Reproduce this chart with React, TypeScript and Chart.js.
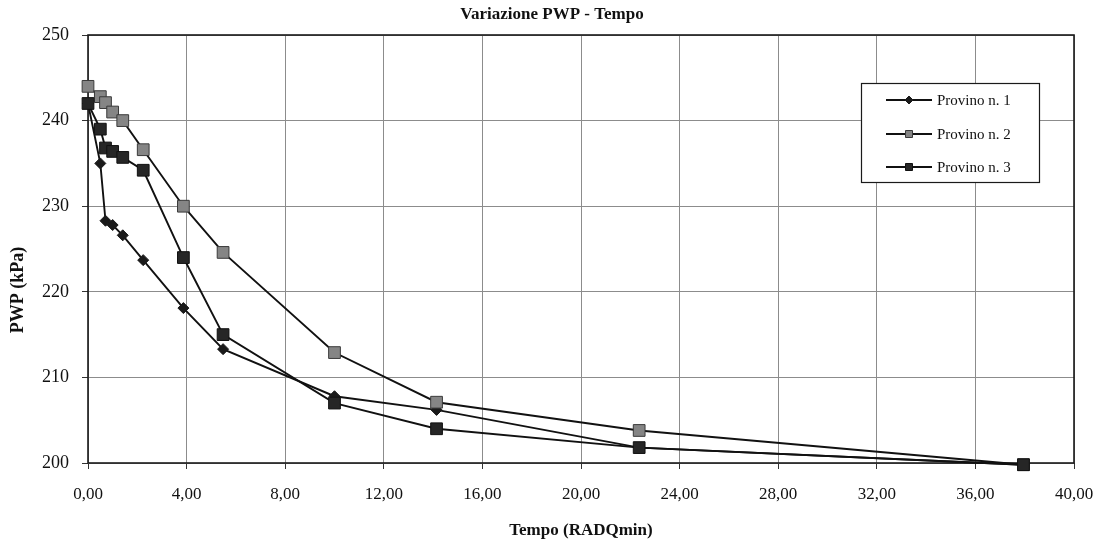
import React, { useEffect, useRef } from 'react';
import { Chart, registerables } from 'chart.js';

Chart.register(...registerables);

// ---- data ----
const timeRoot = [0, 0.5, 0.71, 1.0, 1.41, 2.24, 3.87, 5.48, 10.0, 14.14, 22.36, 37.95];
const provino1 = [242.0, 235.0, 228.3, 227.8, 226.6, 223.7, 218.1, 213.3, 207.8, 206.2, 201.8, 199.8];
const provino2 = [244.0, 242.8, 242.1, 241.0, 240.0, 236.6, 230.0, 224.6, 212.9, 207.1, 203.8, 199.8];
const provino3 = [242.0, 239.0, 236.8, 236.4, 235.7, 234.2, 224.0, 215.0, 207.0, 204.0, 201.8, 199.8];
const seriesLabels = ['Provino n. 1', 'Provino n. 2', 'Provino n. 3'];

const xMin = 0;
const xMax = 40;
const xStep = 4;
const yMin = 200;
const yMax = 250;
const yStep = 10;

const chartTitle = 'Variazione PWP - Tempo';
const xTitle = 'Tempo (RADQmin)';
const yTitle = 'PWP (kPa)';

const FONT = "'Liberation Serif', 'Times New Roman', serif";

const markerStyles = [
  { style: 'rectRot', radius: 5.5, fill: '#1a1a1a', stroke: '#1a1a1a' },
  { style: 'rect', radius: 8.3, fill: '#858585', stroke: '#3a3a3a' },
  { style: 'rect', radius: 8.3, fill: '#262626', stroke: '#111111' },
];

function drawMarker(ctx: CanvasRenderingContext2D, kind: number, x: number, y: number) {
  const m = markerStyles[kind];
  ctx.save();
  ctx.fillStyle = m.fill;
  ctx.strokeStyle = m.stroke;
  ctx.lineWidth = 1;
  ctx.beginPath();
  if (m.style === 'rectRot') {
    const r = 4;
    ctx.moveTo(x - r, y);
    ctx.lineTo(x, y - r);
    ctx.lineTo(x + r, y);
    ctx.lineTo(x, y + r);
    ctx.closePath();
  } else {
    const h = 3.5;
    ctx.rect(x - h, y - h, 2 * h, 2 * h);
  }
  ctx.fill();
  ctx.stroke();
  ctx.restore();
}

const decorPlugin = {
  id: 'decor',
  beforeDraw(chart: any) {
    const { ctx } = chart;
    ctx.save();
    ctx.fillStyle = '#ffffff';
    ctx.fillRect(0, 0, chart.width, chart.height);
    ctx.restore();
  },
  beforeDatasetsDraw(chart: any) {
    const { ctx, chartArea: a } = chart;
    ctx.save();
    ctx.strokeStyle = '#1a1a1a';
    ctx.lineWidth = 1.6;
    ctx.strokeRect(a.left, a.top, a.right - a.left, a.bottom - a.top);
    ctx.restore();
  },
  afterDraw(chart: any) {
    const { ctx } = chart;
    ctx.save();
    // title
    ctx.fillStyle = '#111';
    ctx.font = `bold 17px ${FONT}`;
    ctx.textAlign = 'center';
    ctx.textBaseline = 'middle';
    ctx.fillText(chartTitle, 552, 15);

    // y axis title
    ctx.save();
    ctx.translate(18, 290);
    ctx.rotate(-Math.PI / 2);
    ctx.font = `bold 18px ${FONT}`;
    ctx.fillText(yTitle, 0, 0);
    ctx.restore();

    // legend
    const bx = 861.5;
    const by = 83.5;
    const bw = 178;
    const bh = 99;
    ctx.fillStyle = '#ffffff';
    ctx.fillRect(bx, by, bw, bh);
    ctx.strokeStyle = '#1a1a1a';
    ctx.lineWidth = 1.2;
    ctx.strokeRect(bx, by, bw, bh);
    const rows = [100, 134, 167];
    ctx.font = `15px ${FONT}`;
    ctx.textAlign = 'left';
    ctx.textBaseline = 'middle';
    seriesLabels.forEach((lab, i) => {
      const y = rows[i];
      ctx.strokeStyle = '#111';
      ctx.lineWidth = 1.8;
      ctx.beginPath();
      ctx.moveTo(886, y);
      ctx.lineTo(932, y);
      ctx.stroke();
      drawMarker(ctx, i, 909, y);
      ctx.fillStyle = '#111';
      ctx.fillText(lab, 937, y + 1);
    });
    ctx.restore();
  },
};

function toPoints(vals: number[]) {
  return vals.map((v, i) => ({ x: timeRoot[i], y: v }));
}

export default function App() {
  const ref = useRef<HTMLCanvasElement | null>(null);

  useEffect(() => {
    if (!ref.current) return;
    const series = [provino1, provino2, provino3];
    const chart = new Chart(ref.current, {
      type: 'line',
      data: {
        datasets: series.map((vals, i) => ({
          label: seriesLabels[i],
          data: toPoints(vals),
          borderColor: '#111111',
          borderWidth: 1.9,
          pointStyle: markerStyles[i].style as any,
          pointRadius: markerStyles[i].radius,
          pointBackgroundColor: markerStyles[i].fill,
          pointBorderColor: markerStyles[i].stroke,
          pointBorderWidth: 1,
          fill: false,
          tension: 0,
          clip: false as any,
          order: 3 - i,
        })),
      },
      options: {
        animation: false,
        responsive: false,
        devicePixelRatio: 1,
        layout: { padding: { top: 35, right: 22, left: 0, bottom: 0 } },
        plugins: {
          legend: { display: false },
          title: { display: false },
          tooltip: { enabled: false },
        },
        scales: {
          x: {
            type: 'linear',
            min: xMin,
            max: xMax,
            ticks: {
              stepSize: xStep,
              autoSkip: false,
              maxRotation: 0,
              padding: 15,
              color: '#111',
              font: { family: FONT, size: 17 },
              callback: (v: any) => Number(v).toFixed(2).replace('.', ','),
            },
            grid: { color: '#8c8c8c', lineWidth: 1, tickLength: 6, tickColor: '#333' },
            border: { display: false },
            title: {
              display: true,
              text: xTitle,
              color: '#111',
              font: { family: FONT, size: 17, weight: 'bold' },
              padding: { top: 0, bottom: 10 },
            },
            afterFit: (s: any) => {
              s.height = 88;
              s.paddingLeft = 0;
              s.paddingRight = 0;
            },
          },
          y: {
            type: 'linear',
            min: yMin,
            max: yMax,
            ticks: {
              stepSize: yStep,
              padding: 13,
              color: '#111',
              font: { family: FONT, size: 18 },
            },
            grid: { color: '#8c8c8c', lineWidth: 1, tickLength: 6, tickColor: '#333' },
            border: { display: false },
            afterFit: (s: any) => {
              s.width = 88;
              s.paddingTop = 0;
              s.paddingBottom = 0;
            },
          },
        },
      },
      plugins: [decorPlugin],
    });
    return () => chart.destroy();
  }, []);

  return (
    <div style={{ position: 'absolute', left: 0, top: 0, width: 1096, height: 551, background: '#fff' }}>
      <canvas ref={ref} width={1096} height={551} style={{ display: 'block' }} />
    </div>
  );
}
